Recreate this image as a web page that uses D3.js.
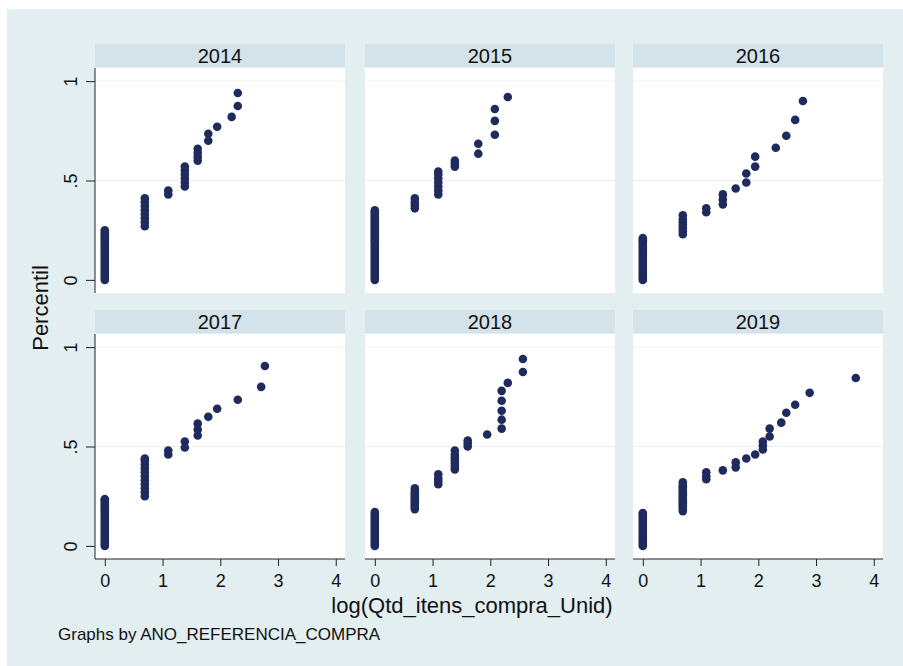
<!DOCTYPE html>
<html>
<head>
<meta charset="utf-8">
<script src="https://cdn.jsdelivr.net/npm/d3@7"></script>
<style>
  html, body { margin: 0; padding: 0; background: #ffffff; }
  svg { display: block; font-family: "Liberation Sans", Arial, sans-serif; }
</style>
</head>
<body>
<svg id="chart" width="903" height="666"></svg>
<script>
// ---------------- DATA ----------------
const years = ["2014", "2015", "2016", "2017", "2018", "2019"];
const xTicks = [0, 1, 2, 3, 4];
const yTicks = [0, 0.5, 1];
const yTickLabels = ["0", ".5", "1"];
const xTitle = "log(Qtd_itens_compra_Unid)";
const yTitle = "Percentil";
const noteText = "Graphs by ANO_REFERENCIA_COMPRA";

// each entry: [log(quantity), [percentile values at that quantity]]
const pts2014 = [
  [0, [0.00,0.01,0.02,0.03,0.04,0.05,0.06,0.07,0.08,0.09,0.10,0.11,0.12,0.13,0.14,0.15,0.16,0.17,0.18,0.19,0.20,0.21,0.22,0.23,0.24,0.25]],
  [0.693, [0.27,0.29,0.31,0.33,0.35,0.37,0.39,0.41]],
  [1.099, [0.43,0.45]],
  [1.386, [0.47,0.49,0.51,0.53,0.55,0.57]],
  [1.609, [0.60,0.62,0.64,0.66]],
  [1.792, [0.70,0.735]],
  [1.946, [0.77]],
  [2.197, [0.82]],
  [2.303, [0.875,0.94]]
];
const pts2015 = [
  [0, [0.00,0.01,0.02,0.03,0.04,0.05,0.06,0.07,0.08,0.09,0.10,0.11,0.12,0.13,0.14,0.15,0.16,0.17,0.18,0.19,0.20,0.21,0.22,0.23,0.24,0.25,0.26,0.27,0.28,0.29,0.30,0.31,0.32,0.33,0.34,0.35]],
  [0.693, [0.36,0.375,0.39,0.41]],
  [1.099, [0.43,0.45,0.47,0.49,0.51,0.53,0.545]],
  [1.386, [0.57,0.585,0.60]],
  [1.792, [0.635,0.685]],
  [2.079, [0.73,0.80,0.86]],
  [2.303, [0.92]]
];
const pts2016 = [
  [0, [0.00,0.01,0.02,0.03,0.04,0.05,0.06,0.07,0.08,0.09,0.10,0.11,0.12,0.13,0.14,0.15,0.16,0.17,0.18,0.19,0.20,0.21]],
  [0.693, [0.23,0.245,0.26,0.275,0.29,0.305,0.325]],
  [1.099, [0.34,0.36]],
  [1.386, [0.38,0.405,0.43]],
  [1.609, [0.46]],
  [1.792, [0.49,0.535]],
  [1.946, [0.57,0.62]],
  [2.303, [0.665]],
  [2.485, [0.725]],
  [2.639, [0.805]],
  [2.773, [0.90]]
];
const pts2017 = [
  [0, [0.00,0.01,0.02,0.03,0.04,0.05,0.06,0.07,0.08,0.09,0.10,0.11,0.12,0.13,0.14,0.15,0.16,0.17,0.18,0.19,0.20,0.21,0.22,0.23,0.235]],
  [0.693, [0.25,0.27,0.29,0.31,0.33,0.35,0.37,0.39,0.41,0.43,0.44]],
  [1.099, [0.46,0.48]],
  [1.386, [0.495,0.525]],
  [1.609, [0.555,0.585,0.615]],
  [1.792, [0.65]],
  [1.946, [0.69]],
  [2.303, [0.735]],
  [2.708, [0.80]],
  [2.773, [0.905]]
];
const pts2018 = [
  [0, [0.00,0.01,0.02,0.03,0.04,0.05,0.06,0.07,0.08,0.09,0.10,0.11,0.12,0.13,0.14,0.15,0.16,0.17]],
  [0.693, [0.185,0.195,0.205,0.215,0.225,0.235,0.245,0.255,0.265,0.275,0.29]],
  [1.099, [0.31,0.325,0.34,0.36]],
  [1.386, [0.385,0.40,0.415,0.43,0.445,0.46,0.48]],
  [1.609, [0.50,0.515,0.53]],
  [1.946, [0.56]],
  [2.197, [0.59,0.635,0.68,0.73,0.78]],
  [2.303, [0.82]],
  [2.565, [0.875,0.94]]
];
const pts2019 = [
  [0, [0.00,0.01,0.02,0.03,0.04,0.05,0.06,0.07,0.08,0.09,0.10,0.11,0.12,0.13,0.14,0.15,0.16,0.165]],
  [0.693, [0.175,0.185,0.195,0.205,0.215,0.225,0.235,0.245,0.255,0.265,0.275,0.285,0.295,0.305,0.32]],
  [1.099, [0.335,0.35,0.37]],
  [1.386, [0.38]],
  [1.609, [0.395,0.42]],
  [1.792, [0.44]],
  [1.946, [0.46]],
  [2.079, [0.485,0.505,0.525]],
  [2.197, [0.55,0.59]],
  [2.398, [0.62]],
  [2.485, [0.67]],
  [2.639, [0.71]],
  [2.890, [0.77]],
  [3.689, [0.845]]
];
const panelData = [pts2014, pts2015, pts2016, pts2017, pts2018, pts2019];

// ---------------- LAYOUT ----------------
const svg = d3.select("#chart");
const colX = [95, 365, 633];
const rowY = [68, 334];
const panelW = 250, panelH = 225;
const markColor = "#1f2b5c";

svg.append("rect").attr("x", 0).attr("y", 0).attr("width", 903).attr("height", 666).attr("fill", "#ffffff");
svg.append("rect").attr("x", 7).attr("y", 9).attr("width", 896).attr("height", 657).attr("fill", "#e3eef0");

const x = d3.scaleLinear().domain([-0.17, 4.16]).range([0, panelW]);
const y = d3.scaleLinear().domain([-0.066, 1.066]).range([panelH, 0]);

years.forEach((yr, i) => {
  const col = i % 3, row = Math.floor(i / 3);
  const g = svg.append("g").attr("transform", `translate(${colX[col]},${rowY[row]})`);

  // header strip
  g.append("rect").attr("x", 0).attr("y", -24).attr("width", panelW).attr("height", 23).attr("fill", "#d4e3ea");
  g.append("text").attr("x", panelW / 2).attr("y", -5.5).attr("text-anchor", "middle")
    .attr("font-size", 20).attr("fill", "#111").text(yr);

  // plot region
  g.append("rect").attr("x", 0).attr("y", 0).attr("width", panelW).attr("height", panelH).attr("fill", "#ffffff");

  // faint gridlines
  g.selectAll("line.grid").data(yTicks.filter(t => t > 0)).enter().append("line")
    .attr("class", "grid")
    .attr("x1", 0).attr("x2", panelW)
    .attr("y1", d => y(d)).attr("y2", d => y(d))
    .attr("stroke", "#eaf0f2").attr("stroke-width", 1);

  // points
  const flat = [];
  panelData[i].forEach(([xv, ys]) => ys.forEach(yv => flat.push([xv, yv])));
  g.selectAll("circle").data(flat).enter().append("circle")
    .attr("cx", d => x(d[0])).attr("cy", d => y(d[1])).attr("r", 4.3)
    .attr("fill", markColor);

  // y axis on left column
  if (col === 0) {
    const ya = g.append("g").call(
      d3.axisLeft(y).tickValues(yTicks).tickSize(9).tickSizeOuter(0)
        .tickFormat((d, k) => yTickLabels[k])
    );
    ya.select(".domain").attr("stroke", "#222").attr("d", `M0,0V${panelH}`);
    ya.selectAll(".tick line").attr("stroke", "#222");
    ya.selectAll(".tick text")
      .attr("x", 0).attr("dy", 0).attr("text-anchor", "middle")
      .attr("transform", "translate(-18.5,0) rotate(-90)")
      .attr("font-size", 18).attr("font-family", "Liberation Sans, Arial, sans-serif").attr("fill", "#111");
  }
  // x axis on bottom row
  if (row === 1) {
    const xa = g.append("g").attr("transform", `translate(0,${panelH})`).call(
      d3.axisBottom(x).tickValues(xTicks).tickSize(7).tickSizeOuter(0).tickPadding(8)
        .tickFormat(d3.format("d"))
    );
    xa.select(".domain").attr("stroke", "#222").attr("d", `M0,0H${panelW}`);
    xa.selectAll(".tick line").attr("stroke", "#222");
    xa.selectAll(".tick text").attr("font-size", 18)
      .attr("font-family", "Liberation Sans, Arial, sans-serif").attr("fill", "#111");
  }
});

// titles
svg.append("text").attr("x", 472).attr("y", 613).attr("text-anchor", "middle")
  .attr("font-size", 22).attr("fill", "#111").text(xTitle);
svg.append("text").attr("transform", "translate(48,308) rotate(-90)").attr("text-anchor", "middle")
  .attr("font-size", 22).attr("fill", "#111").text(yTitle);
svg.append("text").attr("x", 58).attr("y", 640).attr("text-anchor", "start")
  .attr("font-size", 17).attr("fill", "#111").text(noteText);
</script>
</body>
</html>
